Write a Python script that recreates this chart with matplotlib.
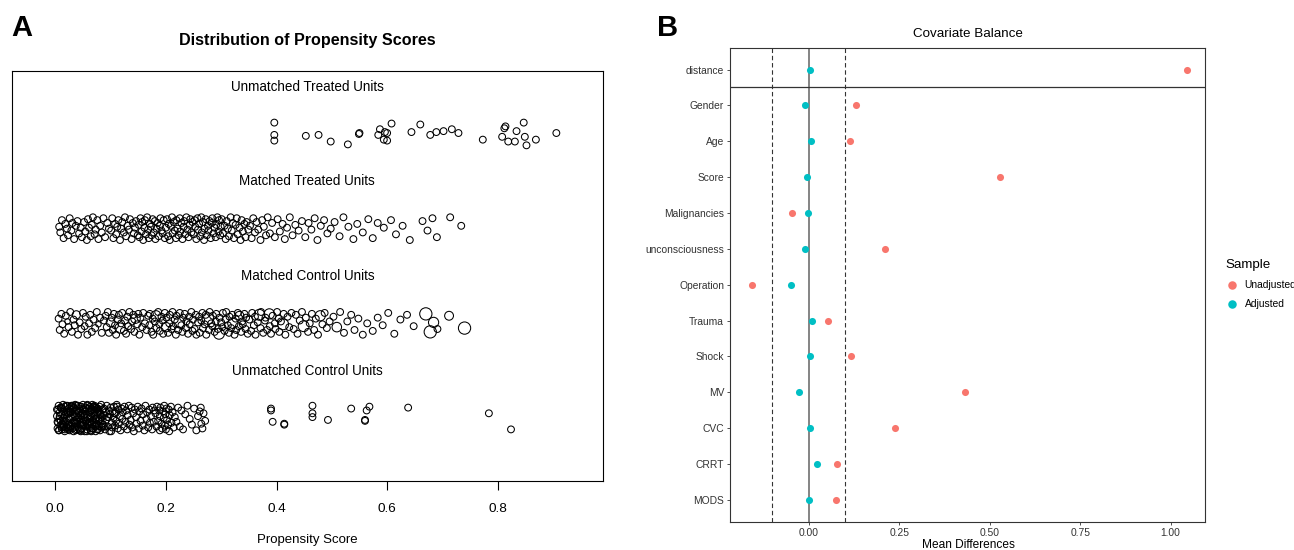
import numpy as np
import matplotlib
matplotlib.use("Agg")
import matplotlib.pyplot as plt
from matplotlib.transforms import blended_transform_factory

plt.rcParams['font.family'] = ['Liberation Sans', 'DejaVu Sans']

# ---------------- Panel A data (propensity score in thousandths, jitter in hundredths of a row)
group_labels = ["Unmatched Treated Units", "Matched Treated Units",
                "Matched Control Units", "Unmatched Control Units"]
group_rows = [3, 2, 1, 0]

ut_x = [396, 396, 396, 453, 476, 498, 529, 549, 550, 587, 584, 596, 600, 594, 600, 608,
        644, 660, 678, 689, 702, 717, 729, 773, 808, 812, 814, 819, 831, 834, 847, 849,
        852, 869, 906]
ut_j = [12, -1, -7, -2, -1, -8, -11, 0, 1, 5, -1, 2, 1, -6, -7, 11,
        2, 10, -1, 2, 3, 5, 1, -6, -3, 6, 8, -8, -8, 3, 12, -3,
        -12, -6, 1]

mt_x = [7, 9, 12, 15, 18, 21, 23, 26, 29, 31, 34, 37, 40, 43, 46, 48,
        52, 54, 57, 59, 61, 64, 66, 68, 71, 73, 76, 78, 81, 84, 87, 90, 94, 97,
        101, 103, 105, 108, 110, 112, 114, 117, 119, 121, 124, 126, 128, 131, 133, 135,
        138, 140, 142, 144, 146, 149,
        151, 152, 154, 156, 157, 159, 161, 162, 164, 166, 168, 169, 171, 173, 174, 176,
        178, 180, 181, 183, 185, 187, 189, 190, 192, 194, 196, 198,
        200, 202, 204, 205, 207, 209, 211, 212, 214, 216, 218, 219, 221, 223, 225, 226,
        228, 230, 232, 233, 235, 237, 239, 241, 243, 244, 246, 248,
        250, 252, 253, 255, 257, 258, 260, 262, 264, 265, 267, 269, 270, 272, 274, 276,
        277, 279, 281, 283, 284, 286, 288, 290, 291, 293, 295, 296, 298, 299,
        301, 303, 306, 308, 310, 312, 314, 317, 319, 321, 323, 326, 328, 330, 333, 335,
        337, 339, 342, 344, 346, 349,
        352, 355, 358, 361, 364, 367, 371, 374, 377, 381, 384, 388, 392, 397,
        402, 406, 411, 415, 419, 424, 429, 434, 440, 446,
        452, 458, 463, 469, 474, 480, 486, 492, 498,
        505, 514, 521, 530, 539, 546,
        556, 566, 574, 583, 594,
        607, 616, 628, 641,
        664, 673, 682, 690,
        714, 734]
mt_j = [2, -4, 9, -10, 5, 0, -7, 11, -2, 6, -11, 3, 8, -5, 1, -9,
        7, -3, -12, 10, 1, -8, 4, 12, -6, -1, 9, -11, 3, -4, 11, -9, 6, 0,
        -2, 11, -10, 5, -6, 2, 9, -12, 0, 7, -4, 12, -8, 3, -1, 10, -11, 6, -5, 1, 8, -7,
        4, -9, 11, -3, 7, -12, 1, 9, -6, 12, -1, -10, 5, 2, -7, 10, -4, 8, -11, 0,
        6, -8, 3, 11, -2, -5, 9, -10,
        1, 10, -8, 5, -12, 3, 12, -5, 7, -2, -10, 9, 0, -7, 11, -3, 6, -11, 2, 8,
        -6, 12, -1, -9, 4, 10, -4, 7,
        -6, 9, 2, -11, 11, -1, 5, -8, 12, -4, 7, -12, 0, 10, -7, 3, -2, 8, -10, 6,
        11, -5, 1, -9, 4, 12, -3, 9, -7, 2,
        10, -5, 3, -11, 8, 0, -8, 12, -2, 6, -10, 4, 11, -6, 1, -12, 9, -3, 5, -9, 7, -1,
        3, -10, 11, -4, 7, -1, -12, 9, 2, -7, 12, -5, 6, -9,
        10, -3, 5, -11, 1, 12, -7, 4, -2, 8,
        -9, 6, -1, 11, -12, 3, 9, -5, 0,
        7, -8, 12, 2, -11, 5,
        -4, 10, -10, 6, 1,
        9, -6, 3, -12,
        8, -2, 11, -9,
        12, 3]

mc_x = [6, 8, 11, 13, 16, 19, 22, 24, 27, 30, 33, 35, 38, 41, 44,
        47, 50, 53, 55, 58, 61, 63, 66, 69, 72, 75, 78, 81, 84, 88,
        91, 93, 95, 97, 100, 102, 104, 106, 108, 110, 113, 115, 117, 119, 121, 124, 126,
        128, 130, 132, 134, 137, 139, 141, 143, 145, 148, 150, 152, 154, 157, 159, 162,
        165, 168,
        170, 171, 174, 176, 177, 180, 182, 183, 186, 188, 189, 192, 194, 195, 198, 200,
        201, 204, 206, 207, 210, 212, 213, 216, 218, 219, 222, 224, 225, 228, 230, 231,
        234, 236, 237, 240, 242, 243, 246, 248, 249, 252, 254, 255, 258,
        260, 261, 264, 266, 267, 270, 272, 273, 276, 278, 279, 282, 284, 285, 288, 290,
        291, 294, 296, 297, 300, 302, 303, 306, 308, 309, 312, 314, 315, 318, 320, 321,
        324, 326, 327, 330, 332, 333, 336, 338, 339, 342, 344, 345, 348,
        351, 354, 356, 359, 361, 362, 366, 369, 371, 372, 376, 379, 380, 383, 387, 388,
        390, 393, 397, 398, 401, 404, 405, 408, 412, 413, 416, 420, 423, 427,
        431, 435, 438, 442, 446, 449, 453, 457, 460, 464, 468, 471, 475, 479, 483, 487,
        491, 496,
        503, 509, 515, 522, 528, 535, 541, 548, 556, 564,
        574, 583, 592, 602, 613, 624, 636,
        648, 670, 678, 684, 691, 712, 740]
mc_j = [5, -7, 10, -1, -11, 8, 2, -4, 12, -9, 4, -2, 9, -12, 1,
        -6, 11, -3, 7, -12, 0, 9, -9, 4, -5, 12, -1, 6, -10, 3,
        8, -4, 12, -10, 1, 6, -7, 10, -2, -12, 4, 9, -5, 0, 11, -8, 3, -11, 7, -3,
        12, -6, 2, 9, -9, 5, -1, 10, -12, 6, -4, 11, 0, -7, 8,
        -2, 10, -9, 5, -12, 2, 8, -5, 12, -1, -8, 7, 3, -11, 11, -4, 6, -10, 0, 9,
        -6, 12, -3, 4, -12, 8, -7, 1, 11, -2, -9, 6, 10, -5, 2, -11, 7, -1, 12, -8,
        4, -6, 9, -12, 1,
        7, -10, 3, 11, -5, -1, 9, -12, 5, -7, 12, 0, -3, 8, -9, 2, 10, -6, -11, 6,
        1, -4, 11, -8, 4, 12, -2, -10, 7, -5, 9, 0, -12, 5, -7, 11, -3, 8, -9, 2,
        -1, 10, -6, 6, -11,
        4, -8, 11, -2, 7, -12, 1, 9, -5, 12, -10, 3, 6, -7, 10, -3, -11, 8, 0, -6,
        12, 5, -9, 2, -1, 10, -12, 7, -4, 11,
        -6, 9, -11, 3, 12, -3, 6, -9, 0, 10, -7, 5, -12, 8, -1, 11, -5, 2,
        7, -4, 12, -10, 2, 9, -7, 5, -12, 0,
        -8, 6, -2, 11, -11, 4, 9,
        -3, 10, -9, 1, -6, 8, -5]
mc_w = [1, 1, 1, 1, 1, 1, 0.8, 1, 1, 1, 1, 1, 1.2, 1, 1,
        1, 1, 1, 1, 1, 1, 1, 1, 1, 1, 1, 0.8, 1, 1, 1,
        1, 1, 1, 1, 1.3, 1, 1, 1, 1, 1, 1, 1, 1.5, 1, 1, 1, 1, 1, 1, 1,
        1, 1, 1, 1, 1, 1.4, 1, 1, 1, 1, 1, 1, 1, 1, 1,
        1, 1, 1, 1, 1, 1, 1.5, 1, 1, 1, 1, 1, 1, 1, 1, 1.4, 1, 1, 1, 1,
        1, 1, 1, 1, 1, 1, 1, 1.6, 1, 1, 1, 1, 1, 1, 1, 1, 1, 1, 1, 1,
        1, 1, 1, 1, 1,
        1, 1, 1, 1, 1, 1, 1, 1, 1.7, 1, 1, 1, 1, 1, 1, 1, 1, 1, 1.6, 1,
        1, 1, 1, 1, 1, 1, 1, 1, 1, 1, 1, 1.5, 1, 1, 1, 1, 1, 1.3, 1, 1,
        1, 1, 1, 1, 1,
        1, 1, 1, 1, 1, 1, 1, 1.6, 1, 1, 1, 1, 1, 1, 1.5, 1, 1, 1, 1, 1,
        1, 1, 1, 1, 1.6, 1, 1, 1, 1, 1,
        1, 1, 1, 1, 1, 1.6, 1, 1, 1, 1, 1, 1, 1, 1.5, 1, 1, 1, 1,
        1, 1.4, 1, 1, 1, 1, 1, 1, 1, 1,
        1, 1, 1, 1, 1, 1, 1,
        1, 1.8, 1.8, 1.5, 1, 1.3, 1.8]

uc_x = [3, 4, 5, 5, 6, 7, 7, 8, 9, 10, 10, 11, 12, 12, 13, 14, 15, 15, 16, 17,
        17, 18, 19, 20, 20, 21, 22, 23, 23, 24, 25, 25, 26, 27, 28, 28, 29, 30, 31, 31,
        32, 33, 33, 34, 35, 36, 36, 37, 38, 39, 39, 40, 41, 41, 42, 43, 44, 44, 45, 46,
        47, 47, 48, 49, 49, 50, 51, 52, 52, 53, 54, 55, 55, 56, 57, 57, 58, 59, 60, 60,
        61, 62, 63, 63, 64, 65, 65, 66, 67, 68, 68, 69, 70, 71, 71, 72, 73, 73, 74, 75,
        76, 76, 77, 78, 79, 79, 80, 81, 81, 82, 83, 84, 84, 85, 86, 4, 10, 13, 17, 23,
        27, 31, 38, 41, 46, 52, 55, 61, 67, 70, 74, 81, 6, 11, 16, 22, 26, 29, 35, 41,
        45, 50, 53, 59, 65, 69, 73, 78, 83, 8, 14, 19, 24, 28, 34, 37, 43, 48, 54, 58,
        62, 66, 72, 77, 82, 3, 12, 25, 34, 44, 57, 63, 71, 79, 86, 20, 38, 49, 66, 74,
        87, 88, 89, 90, 91, 92, 93, 95, 96, 97, 98, 99, 100, 102, 103, 104, 105, 106, 108, 109,
        110, 111, 113, 114, 115, 117, 118, 120, 121, 122, 124, 125, 127, 128, 130, 131, 133, 134,
        136, 138, 139, 141, 142, 144, 146, 147, 149, 151, 152, 154, 156, 158, 159, 161, 163, 165,
        166, 168, 170, 171, 173, 175, 176, 178, 179, 89, 94, 101, 107, 112,
        181, 183, 184, 186, 188, 189, 189, 190, 192, 193, 195, 196, 197, 198, 199, 200, 201, 202,
        204, 205, 206, 207, 209, 210, 212, 214, 216, 219, 222, 225, 228, 231, 235, 239, 243, 247,
        251, 255, 258, 261, 263, 264, 266, 268, 271,
        390, 390, 393, 414, 414, 465, 465, 465, 493, 535, 563, 568, 560, 560, 638, 784, 824]
uc_j = [2, -11, 9, -5, 13, -1, -13, 6, -8, 11, -3, 4, -12, 10, -6, 14, 0, -9, 7, -14,
        3, 12, -4, -10, 8, -2, 13, -7, 5, -12, 10, -1, -13, 6, 1, -8, 12, -5, 9, -11,
        4, -14, 11, -3, 7, -9, 14, -6, 2, -12, 8, -4, 13, -10, 0, 6, -13, 10, -7, 3,
        -1, 12, -11, 5, -5, 14, -8, 1, 9, -14, 7, -3, 11, -9, 4, -12, 13, -6, -1, 10,
        -10, 6, -4, 12, -13, 2, 8, -7, 14, -2, -11, 9, -5, 3, 13, -9, 0, -14, 11, -6,
        5, -12, 10, -3, 7, -8, 12, -1, -13, 4, 14, -10, 1, -6, 9, -4, 11, -7, -12, 6,
        -9, 13, -2, 8, -14, 3, 10, -5, -11, 12, -8, 5, -13, 11, -3, -10, 7, 13, -6, 1,
        -12, 9, 4, -7, -14, 12, -1, 8, -9, 2, -4, 13, -11, 6, 10, -13, -2, 5, -8, 14,
        0, -6, 11, -12, 3, 9, -10, 7, -5, 12, -14, 1, 8, -3, -9, 4, 13, -7, 10, -1,
        -7, 10, 3, -12, 6, -2, 13, -9, 1, 8, -14, 4, 11, -5, -10, 7, 0, 12, -8, 5,
        -3, 14, -11, 9, -6, 2, -13, 10, -1, 6, -9, 12, -4, 8, -12, 3, 13, -7,
        -2, 11, -10, 5, -14, 9, 1, -6, 12, -11, 7, -3, 10, -8, 4, -13, 13, -1,
        6, -10, 9, -5, 2, -12, 11, -4, 8, -9, 1, -14, 5, 12,
        5, -9, 12, -3, 8, -13, 2, 11, -6, -11, 7, 0, 13, -8, 4, -12, 10, -2,
        -7, 9, -14, 3, 12, -5, 6, -10, 1, -4, 11, -9, 8, -12, 4, 13, -1, -7,
        10, -13, 2, 7, 11, -6, -11, 5, -3,
        10, 8, -4, -6, -7, 13, 5, 1, -2, 10, 8, 12, -2, -3, 11, 5, -12]

# ---------------- Panel B data
covariates = ["distance", "Gender", "Age", "Score", "Malignancies", "unconsciousness",
              "Operation", "Trauma", "Shock", "MV", "CVC", "CRRT", "MODS"]
unadjusted = [1.044, 0.132, 0.114, 0.529, -0.046, 0.211, -0.157, 0.053, 0.118,
              0.433, 0.238, 0.078, 0.076]
adjusted = [0.003, -0.010, 0.005, -0.006, -0.001, -0.009, -0.050, 0.009, 0.004,
            -0.028, 0.004, 0.023, 0.001]
xticks_B = [0.0, 0.25, 0.5, 0.75, 1.0]
xticklabels_B = ["0.00", "0.25", "0.50", "0.75", "1.00"]
xticks_A = [0.0, 0.2, 0.4, 0.6, 0.8]

W, H = 1294, 550
fig = plt.figure(figsize=(W / 100, H / 100), dpi=100)

# ---------------- Panel A
axA = fig.add_axes([11.9 / W, 1 - 481 / H, (602.8 - 11.9) / W, (481 - 71) / H])
base_s = 24
groups = [(ut_x, ut_j, None), (mt_x, mt_j, None), (mc_x, mc_j, mc_w), (uc_x, uc_j, None)]
for (gx, gj, gw), row in zip(groups, group_rows):
    xs = np.array(gx) / 1000.0
    ys = row + np.array(gj) / 100.0
    sizes = base_s if gw is None else base_s * np.array(gw) ** 2
    axA.scatter(xs, ys, s=sizes, facecolors='none', edgecolors='black', linewidths=0.75)
trans = blended_transform_factory(axA.transAxes, axA.transData)
for lab, row in zip(group_labels, group_rows):
    axA.text(0.5, row + 0.5, lab, transform=trans, ha='center', va='center', fontsize=9.75)
axA.set_xlim(-0.0785, 0.990)
axA.set_ylim(-0.665, 3.665)
axA.set_yticks([])
axA.set_xticks(xticks_A)
axA.set_xticklabels([f"{v:.1f}" for v in xticks_A])
axA.tick_params(axis='x', direction='out', length=6.5, width=0.8, labelsize=9.7, pad=9)
for sp in axA.spines.values():
    sp.set_linewidth(0.8)
fig.text(307 / W, 1 - 40 / H, "Distribution of Propensity Scores", ha='center', va='center',
         fontsize=11.6, fontweight='bold')
fig.text(307 / W, 1 - 540 / H, "Propensity Score", ha='center', va='center', fontsize=9.5)
fig.text(22 / W, 1 - 28 / H, "A", ha='center', va='center', fontsize=21, fontweight='bold')

# ---------------- Panel B
axB = fig.add_axes([730.4 / W, 1 - 521.5 / H, (1205.4 - 730.4) / W, (521.5 - 48) / H])
yy = np.arange(len(covariates))
axB.axvline(0, color='#6f6f6f', lw=1.2, zorder=1)
for v in (-0.1, 0.1):
    axB.axvline(v, color='#333333', lw=0.8, ls=(0, (4, 2.5)), zorder=1)
axB.axhline(0.5, color='#333333', lw=0.9, zorder=1)
axB.scatter(unadjusted, yy, s=26, color='#F8766D', label='Unadjusted', zorder=3, linewidths=0)
axB.scatter(adjusted, yy, s=26, color='#00BFC4', label='Adjusted', zorder=3, linewidths=0)
axB.set_xlim(-0.2163, 1.0959)
axB.set_ylim(len(covariates) - 0.4, -0.6)
axB.set_yticks(yy)
axB.set_yticklabels(covariates)
axB.set_xticks(xticks_B)
axB.set_xticklabels(xticklabels_B)
axB.tick_params(length=2.5, width=0.6, color='#333333', labelsize=7.4, labelcolor='#333333', pad=2)
for sp in axB.spines.values():
    sp.set_linewidth(0.8)
    sp.set_color('#333333')
fig.text(968 / W, 1 - 34 / H, "Covariate Balance", ha='center', va='center', fontsize=9.6)
fig.text(968 / W, 1 - 545 / H, "Mean Differences", ha='center', va='center', fontsize=8.6)
fig.text(668 / W, 1 - 28 / H, "B", ha='center', va='center', fontsize=21, fontweight='bold')
leg = axB.legend(title='Sample', loc='upper left', bbox_to_anchor=(1220 / W, 1 - 254 / H),
                 bbox_transform=fig.transFigure, frameon=False, fontsize=7.4, title_fontsize=9.6,
                 alignment='left', handletextpad=0.5, labelspacing=0.85, borderpad=0,
                 handlelength=1.4, scatterpoints=1, markerscale=1.2)

fig.savefig("out.png", dpi=100)
